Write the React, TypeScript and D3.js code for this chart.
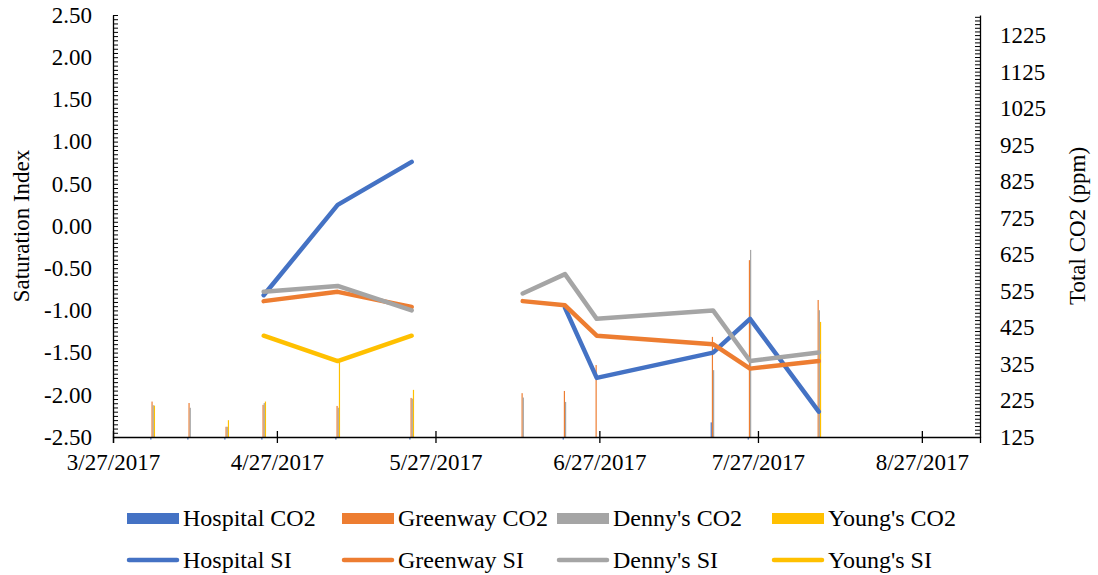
import React, { useEffect, useRef } from 'react';
import * as d3 from 'd3';

// sampling dates (5/30 had no readings, it breaks the SI lines)
const sampleDates = ['4/3/2017', '4/10/2017', '4/17/2017', '4/24/2017', '5/8/2017', '5/22/2017', '5/30/2017', '6/12/2017', '6/20/2017', '6/26/2017', '7/18/2017', '7/25/2017', '8/7/2017'];

const hospitalCO2 = [118, 118, 118, 118, 118, 118, null, null, 118, null, 165, 118, null];
const greenwayCO2 = [222, 218, 153, 213, 210, 232, null, 245, 251, 322, 399, 609, 500];
const dennysCO2 = [212, 205, 153, 218, 205, 230, null, 233, 221, null, 308, 637, 472];
const youngsCO2 = [211, null, 171, 222, 332, 254, null, null, null, null, null, null, 440];

const hospitalSI = [null, null, null, -0.82, 0.25, 0.76, null, null, -0.97, -1.8, -1.5, -1.1, -2.2];
const greenwaySI = [null, null, null, -0.89, -0.78, -0.96, null, -0.89, -0.94, -1.3, -1.4, -1.69, -1.6];
const dennysSI = [null, null, null, -0.78, -0.71, -1.0, null, -0.8, -0.57, -1.1, -1.0, -1.6, -1.5];
const youngsSI = [null, null, null, -1.3, -1.6, -1.3, null, null, null, null, null, null, null];

const dateTicks = ['3/27/2017', '4/27/2017', '5/27/2017', '6/27/2017', '7/27/2017', '8/27/2017'];
const siTicks = [-2.5, -2, -1.5, -1, -0.5, 0, 0.5, 1, 1.5, 2, 2.5];
const co2Ticks = [125, 225, 325, 425, 525, 625, 725, 825, 925, 1025, 1125, 1225];

const siteNames = ['Hospital', 'Greenway', "Denny's", "Young's"];
const colors = ['#4472C4', '#ED7D31', '#A5A5A5', '#FFC000'];

const FONT = '"Liberation Serif", "Times New Roman", serif';

const SaturationChart: React.FC = () => {
  const svgRef = useRef<SVGSVGElement>(null);

  useEffect(() => {
    const svg = svgRef.current;
    if (!svg) return;
    const root = d3.select(svg);
    root.selectAll('*').remove();

    const parse = d3.timeParse('%m/%d/%Y');
    const dates = sampleDates.map((d) => parse(d) as Date);
    // columns sit in the middle of their day slot
    const mid = dates.map((d) => d3.timeHour.offset(d, 12));

    const left = 113;
    const right = 980;
    const top = 15;
    const bottom = 437;

    const x = d3.scaleTime().domain([parse('3/27/2017') as Date, parse('9/7/2017') as Date]).range([left, right]);
    const ySI = d3.scaleLinear().domain([-2.5, 2.5]).range([bottom, top]);
    const yCO2 = d3.scaleLinear().domain([125, 1280]).range([bottom, top]);

    const dayWidth = x(d3.timeDay.offset(dates[0], 1)) - x(dates[0]);
    const barW = (dayWidth * 0.9) / 4;

    // CO2 columns
    const co2Series = [hospitalCO2, greenwayCO2, dennysCO2, youngsCO2];
    co2Series.forEach((vals, si) => {
      root
        .append('g')
        .selectAll('rect')
        .data(vals.map((v, i) => ({ v, d: mid[i] })).filter((p) => p.v != null))
        .join('rect')
        .attr('x', (p) => x(p.d) - 2 * barW + si * barW)
        .attr('width', barW)
        .attr('y', (p) => Math.min(yCO2(p.v as number), yCO2(125)))
        .attr('height', (p) => Math.abs(yCO2(125) - yCO2(p.v as number)))
        .attr('fill', colors[si]);
    });

    // SI lines
    const siSeries = [hospitalSI, greenwaySI, dennysSI, youngsSI];
    const line = d3
      .line<{ v: number | null; d: Date }>()
      .defined((p) => p.v != null)
      .x((p) => x(p.d))
      .y((p) => ySI(p.v as number));
    siSeries.forEach((vals, si) => {
      root
        .append('path')
        .attr('d', line(vals.map((v, i) => ({ v, d: mid[i] }))))
        .attr('fill', 'none')
        .attr('stroke', colors[si])
        .attr('stroke-width', 4.5)
        .attr('stroke-linejoin', 'round')
        .attr('stroke-linecap', 'round');
    });

    // left axis: minor ticks then labels
    const leftMinor = d3.range(-2.5, 2.5001, 0.05);
    root
      .append('g')
      .attr('transform', `translate(${left},0)`)
      .call(d3.axisLeft(ySI).tickValues(leftMinor).tickSizeInner(-5).tickSizeOuter(0).tickFormat(() => ''))
      .call((g) => g.selectAll('line').attr('stroke', '#000'))
      .call((g) => g.select('.domain').attr('stroke', '#000').attr('stroke-width', 1.3));
    root
      .append('g')
      .attr('transform', `translate(${left},0)`)
      .call(d3.axisLeft(ySI).tickValues(siTicks).tickSize(0).tickPadding(21).tickFormat((v) => (v as number).toFixed(2)))
      .call((g) => g.select('.domain').remove())
      .call((g) => g.selectAll('text').attr('font-family', FONT).attr('font-size', 23).attr('fill', '#000'));

    // right axis
    const rightMinor = d3.range(125, 1281, 10);
    root
      .append('g')
      .attr('transform', `translate(${right},0)`)
      .call(d3.axisRight(yCO2).tickValues(rightMinor).tickSizeInner(-5).tickSizeOuter(0).tickFormat(() => ''))
      .call((g) => g.selectAll('line').attr('stroke', '#000'))
      .call((g) => g.select('.domain').attr('stroke', '#000').attr('stroke-width', 1.3));
    root
      .append('g')
      .attr('transform', `translate(${right},0)`)
      .call(d3.axisRight(yCO2).tickValues(co2Ticks).tickSize(0).tickPadding(20).tickFormat((v) => String(v)))
      .call((g) => g.select('.domain').remove())
      .call((g) => g.selectAll('text').attr('font-family', FONT).attr('font-size', 23).attr('fill', '#000'));

    // bottom axis with crossing ticks
    const tickDates = dateTicks.map((d) => parse(d) as Date);
    const fmt = d3.timeFormat('%-m/%-d/%Y');
    root
      .append('g')
      .attr('transform', `translate(0,${bottom})`)
      .call(d3.axisBottom(x).tickValues(tickDates).tickSize(6).tickPadding(11).tickFormat((d) => fmt(d as Date)))
      .call((g) => g.select('.domain').attr('stroke', '#000').attr('stroke-width', 1.3))
      .call((g) => g.selectAll('.tick line').attr('y1', -6).attr('stroke', '#000').attr('stroke-width', 1.3))
      .call((g) => g.selectAll('text').attr('font-family', FONT).attr('font-size', 23).attr('fill', '#000'));

    // axis titles
    root
      .append('text')
      .attr('transform', `translate(29,${(top + bottom) / 2}) rotate(-90)`)
      .attr('text-anchor', 'middle')
      .attr('font-family', FONT)
      .attr('font-size', 23)
      .text('Saturation Index');
    root
      .append('text')
      .attr('transform', `translate(1085,${(top + bottom) / 2}) rotate(-90)`)
      .attr('text-anchor', 'middle')
      .attr('font-family', FONT)
      .attr('font-size', 23)
      .text('Total CO2 (ppm)');

    // legend
    const legend = root.append('g');
    siteNames.forEach((name, i) => {
      const lx = 127 + i * 215;
      legend.append('rect').attr('x', lx).attr('y', 513).attr('width', 52).attr('height', 11).attr('fill', colors[i]);
      legend
        .append('text')
        .attr('x', lx + 56)
        .attr('y', 526)
        .attr('font-family', FONT)
        .attr('font-size', 24)
        .text(`${name} CO2`);
      legend
        .append('line')
        .attr('x1', lx + 2)
        .attr('x2', lx + 50)
        .attr('y1', 560)
        .attr('y2', 560)
        .attr('stroke', colors[i])
        .attr('stroke-width', 4.5)
        .attr('stroke-linecap', 'round');
      legend
        .append('text')
        .attr('x', lx + 56)
        .attr('y', 568)
        .attr('font-family', FONT)
        .attr('font-size', 24)
        .text(`${name} SI`);
    });
  }, []);

  return <svg ref={svgRef} width={1098} height={575} style={{ position: 'absolute', left: 0, top: 0, background: '#fff' }} />;
};

export default function App() {
  return <SaturationChart />;
}
